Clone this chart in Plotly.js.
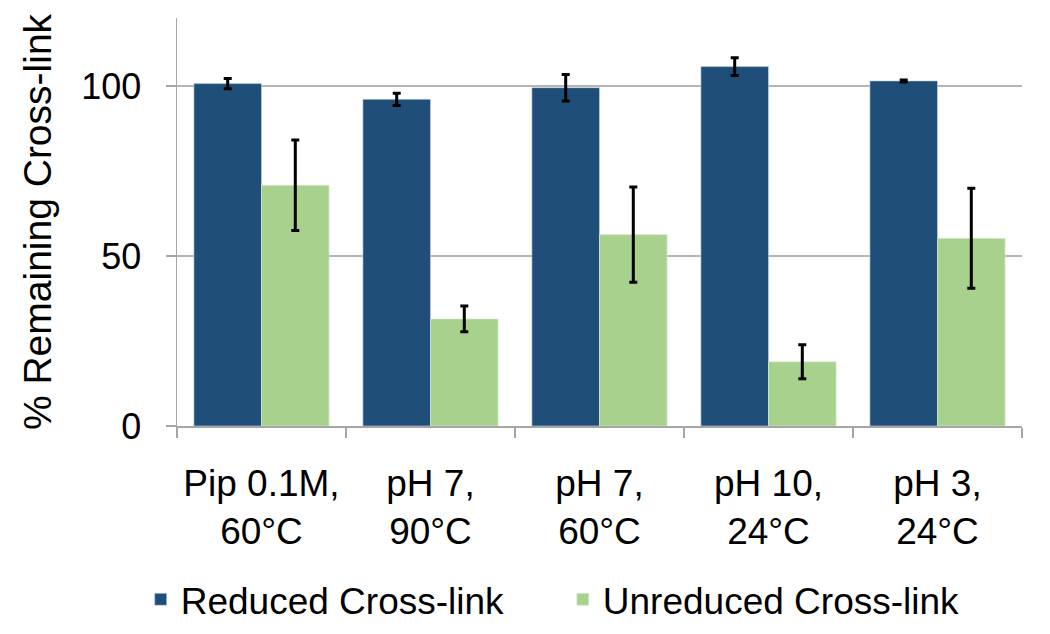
<!DOCTYPE html>
<html>
<head>
<meta charset="utf-8">
<script src="https://cdn.plot.ly/plotly-3.0.1.min.js"></script>
<style>html,body{margin:0;padding:0;background:#fff;}#chart{width:1050px;height:634px;}</style>
</head>
<body>
<div id="chart"></div>
<script>
const categories = ["Pip 0.1M,<br>60°C", "pH 7,<br>90°C", "pH 7,<br>60°C", "pH 10,<br>24°C", "pH 3,<br>24°C"];
const reducedValues = [100.7, 96.1, 99.5, 105.7, 101.5];
const reducedErrors = [1.5, 1.8, 3.9, 2.6, 0.3];
const unreducedValues = [70.8, 31.5, 56.3, 18.9, 55.2];
const unreducedErrors = [13.3, 3.8, 14.0, 5.0, 14.7];
const yTicks = [0, 50, 100];

const FONT = "Liberation Sans, Arial, Helvetica, sans-serif";

const traces = [
  {
    type: "bar", name: "Reduced Cross-link", x: categories, y: reducedValues, legend: "legend",
    marker: {color: "#1f4e79", line: {color: "rgba(200,215,235,0.6)", width: 1}},
    error_y: {type: "data", array: reducedErrors, visible: true, color: "#000", thickness: 3, width: 4}
  },
  {
    type: "bar", name: "Unreduced Cross-link", x: categories, y: unreducedValues, legend: "legend2",
    marker: {color: "#a9d18e", line: {color: "rgba(220,240,210,0.6)", width: 1}},
    error_y: {type: "data", array: unreducedErrors, visible: true, color: "#000", thickness: 3, width: 4}
  }
];

const legendBase = {orientation: "h", xanchor: "left", xref: "container", y: 0.054, yanchor: "middle", yref: "container",
                    font: {family: FONT, size: 37}, itemwidth: 30, bgcolor: "rgba(0,0,0,0)"};

const layout = {
  width: 1050, height: 634,
  margin: {l: 177, r: 28, t: 18, b: 208},
  paper_bgcolor: "#fff", plot_bgcolor: "#fff",
  font: {family: FONT, color: "#000", size: 36},
  barmode: "group", bargap: 0.2, bargroupgap: 0,
  showlegend: true,
  legend: Object.assign({}, legendBase, {x: 0.134}),
  legend2: Object.assign({}, legendBase, {x: 0.536}),
  xaxis: {
    type: "category", tickson: "boundaries", ticks: "outside", ticklen: 10, tickcolor: "#a6a6a6", tickwidth: 1.5,
    showline: true, linecolor: "#a6a6a6", linewidth: 1.5, showgrid: false,
    tickfont: {family: FONT, size: 37}, ticklabelstandoff: 24, automargin: false
  },
  yaxis: {
    range: [0, 120], tickvals: yTicks, ticktext: yTicks.map(String),
    ticks: "outside", ticklen: 10, tickcolor: "#a6a6a6", tickwidth: 1.5,
    showline: true, linecolor: "#a6a6a6", linewidth: 1.5,
    showgrid: true, gridcolor: "#b5b5b5", gridwidth: 1.5, zeroline: false,
    tickfont: {family: FONT, size: 36}, ticklabelstandoff: 17,
    title: {text: "% Remaining Cross-link", font: {family: FONT, size: 39}, standoff: 17},
    automargin: false
  }
};

Plotly.newPlot("chart", traces, layout, {staticPlot: true, displayModeBar: false});
</script>
</body>
</html>
